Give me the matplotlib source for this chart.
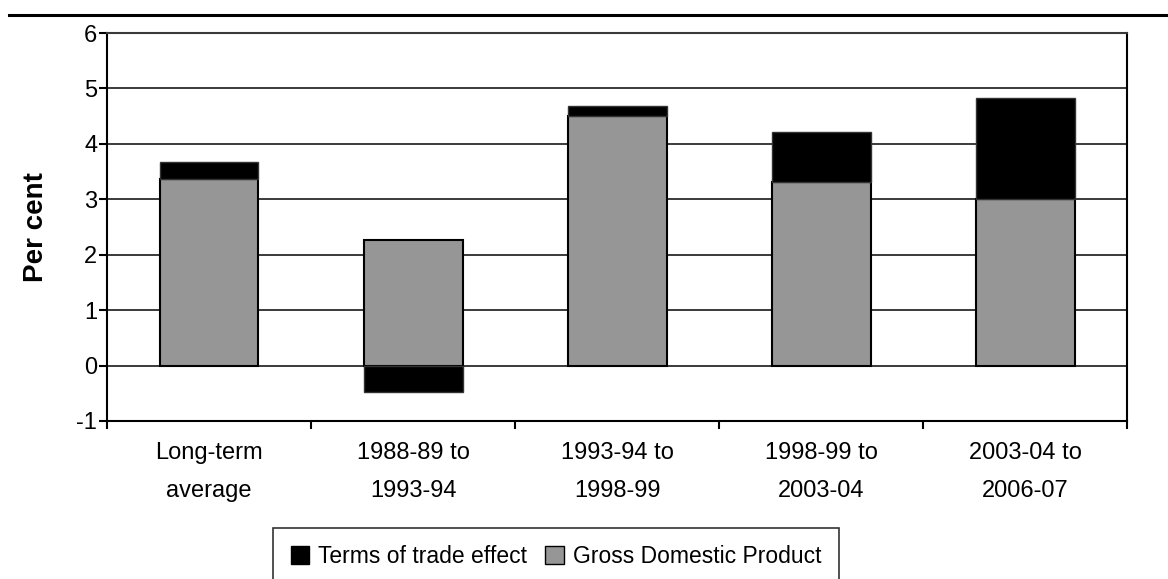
import matplotlib.pyplot as plt
from matplotlib.patches import Patch

plt.rcParams['font.family'] = ['Liberation Sans', 'DejaVu Sans']

# data
categories = ['Long-term\naverage', '1988-89 to\n1993-94', '1993-94 to\n1998-99',
              '1998-99 to\n2003-04', '2003-04 to\n2006-07']
gdp = [3.36, 2.26, 4.51, 3.32, 3.01]
tot = [0.31, -0.47, 0.17, 0.89, 1.82]

gray = '#969696'

fig = plt.figure(figsize=(11.68, 5.79), dpi=100)
ax = fig.add_axes([0.0916, 0.273, 0.8734, 0.670])

x = list(range(len(categories)))
ax.bar(x, gdp, width=0.485, color=gray, edgecolor='black', linewidth=1.5, zorder=3)
# terms of trade stacks on top of GDP when positive, below zero when negative
bottoms = [g if t >= 0 else 0 for g, t in zip(gdp, tot)]
ax.bar(x, tot, width=0.485, bottom=bottoms, color='black', edgecolor='#333333',
       linewidth=1.0, zorder=3)

ax.set_ylim(-1, 6)
ax.set_xlim(-0.5, 4.5)
ax.set_yticks(range(-1, 7))
ax.set_yticklabels([str(v) for v in range(-1, 7)], fontsize=17)
ax.yaxis.grid(True, color='#3a3a3a', linewidth=1.4, zorder=0)
ax.set_axisbelow(True)

# ticks at category boundaries, labels in the middle
ax.set_xticks([i - 0.5 for i in range(len(categories) + 1)])
ax.set_xticklabels([])
ax.set_xticks(x, minor=True)
ax.set_xticklabels(categories, minor=True, fontsize=17, linespacing=1.95)
ax.tick_params(axis='x', which='minor', length=0, pad=15)
ax.tick_params(axis='x', which='major', length=6, width=1.5, direction='out')
ax.tick_params(axis='y', length=6, width=1.5, direction='out', pad=1)

for s in ax.spines.values():
    s.set_linewidth(1.5)
    s.set_color('black')
ax.spines['top'].set_color('#3a3a3a')

ax.set_ylabel('Per cent', fontsize=20, fontweight='bold', labelpad=20)

# rule across the top of the chart
fig.add_artist(plt.Line2D([0.008, 1.0], [1 - 15 / 579, 1 - 15 / 579],
                          color='black', linewidth=2.2))

handles = [Patch(facecolor='black', edgecolor='black', label='Terms of trade effect'),
           Patch(facecolor=gray, edgecolor='black', label='Gross Domestic Product')]
leg = fig.legend(handles=handles, loc='upper center', bbox_to_anchor=(0.476, 1 - 528 / 579),
                 ncol=2, fontsize=16.5, frameon=True, fancybox=False, borderpad=0.75,
                 handlelength=0.8, handleheight=0.8, handletextpad=0.4, columnspacing=0.8,
                 borderaxespad=0)
leg.get_frame().set_edgecolor('black')
leg.get_frame().set_linewidth(1.2)

fig.savefig('out.png', dpi=100)
